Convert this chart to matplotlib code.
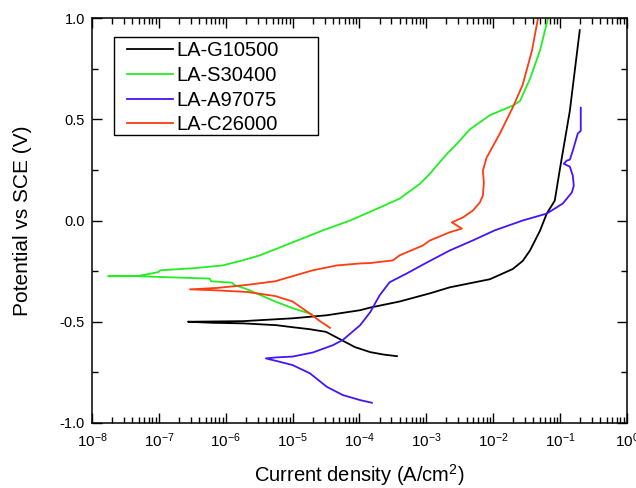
import matplotlib
matplotlib.use("Agg")
import matplotlib.pyplot as plt
from matplotlib.patches import Rectangle
import numpy as np
from matplotlib.ticker import FixedLocator, LogLocator, FuncFormatter, MultipleLocator

plt.rcParams['font.family'] = ['Liberation Sans', 'DejaVu Sans']
plt.rcParams['mathtext.fontset'] = 'custom'
plt.rcParams['mathtext.rm'] = 'Liberation Sans'
plt.rcParams['mathtext.it'] = 'Liberation Sans'

# log10 of current density (A/cm2) and potential (V vs SCE)
g10500_logi = [-3.44, -3.64, -3.84, -4.07, -4.35, -4.50, -4.74, -5.00, -5.24, -5.74,
               -6.21, -6.565,
               -5.74, -5.00, -4.49, -3.99, -3.84, -3.40, -2.95, -2.65, -2.05,
               -1.71, -1.56, -1.45, -1.30, -1.20, -1.08, -1.00, -0.855, -0.706]
g10500_e = [-0.67, -0.662, -0.65, -0.625, -0.576, -0.55, -0.537, -0.527, -0.517, -0.508,
            -0.505, -0.50,
            -0.497, -0.483, -0.468, -0.443, -0.43, -0.40, -0.36, -0.33, -0.29,
            -0.24, -0.20, -0.148, -0.05, 0.034, 0.098, 0.26, 0.54, 0.94]

s30400_logi = [-4.71, -5.00, -5.26, -5.71, -5.86, -5.91, -6.22, -6.24, -6.68,
               -7.31, -7.76,
               -7.31, -7.01, -6.98, -6.46, -6.05, -5.75, -5.49, -5.00, -4.55,
               -4.14, -3.80, -3.40, -3.10, -2.95, -2.69, -2.54, -2.35, -2.05,
               -1.71, -1.60, -1.45, -1.30, -1.18]
s30400_e = [-0.463, -0.433, -0.40, -0.336, -0.32, -0.307, -0.30, -0.287, -0.282,
            -0.275, -0.275,
            -0.274, -0.255, -0.246, -0.235, -0.222, -0.197, -0.172, -0.108, -0.049,
            0.0, 0.049, 0.108, 0.18, 0.23, 0.33, 0.38, 0.45, 0.52,
            0.567, 0.59, 0.70, 0.84, 1.0]

a97075_logi = [-3.815, -3.99, -4.25, -4.49, -4.74, -5.00, -5.19, -5.40,
               -5.24, -5.00, -4.70, -4.40, -4.25, -3.99, -3.84, -3.70, -3.55, -3.29,
               -2.99, -2.65, -2.31, -1.98, -1.56, -1.20, -0.96, -0.90, -0.825,
               -0.795, -0.81, -0.855, -0.945, -0.90, -0.855, -0.81, -0.735,
               -0.691, -0.691]
a97075_e = [-0.90, -0.887, -0.862, -0.821, -0.755, -0.714, -0.698, -0.681,
            -0.676, -0.672, -0.652, -0.616, -0.59, -0.517, -0.453, -0.37, -0.305, -0.261,
            -0.207, -0.148, -0.099, -0.049, 0.0, 0.034, 0.084, 0.108, 0.138,
            0.172, 0.222, 0.266, 0.28, 0.296, 0.30, 0.345, 0.43,
            0.443, 0.557]

c26000_logi = [-4.44, -4.60, -4.74, -5.00, -5.26, -5.68, -6.13, -6.535,
               -6.13, -5.68, -5.26, -4.70, -4.34, -3.99, -3.84, -3.50, -3.40,
               -3.05, -2.95, -2.649, -2.469, -2.619, -2.454, -2.305, -2.20,
               -2.155, -2.14, -2.155, -2.10, -1.90, -1.71, -1.56, -1.42, -1.333]
c26000_e = [-0.53, -0.495, -0.46, -0.40, -0.373, -0.353, -0.345, -0.34,
            -0.333, -0.318, -0.30, -0.246, -0.222, -0.212, -0.21, -0.197, -0.172,
            -0.123, -0.099, -0.058, -0.04, -0.009, 0.015, 0.049, 0.089,
            0.123, 0.187, 0.246, 0.31, 0.43, 0.557, 0.67, 0.84, 0.995]

series = [
    ("LA-G10500", g10500_logi, g10500_e, "black"),
    ("LA-S30400", s30400_logi, s30400_e, "#22ee22"),
    ("LA-A97075", a97075_logi, a97075_e, "#4414ff"),
    ("LA-C26000", c26000_logi, c26000_e, "#ff3c10"),
]

fig = plt.figure(figsize=(6.36, 4.88), dpi=100)
ax = fig.add_axes([0.1447, 0.1332, 0.8411, 0.8299])

for name, li, e, col in series:
    ax.plot(10.0 ** np.array(li), e, color=col, lw=1.3, label=name)

ax.set_xscale("log")
ax.set_xlim(1e-8, 1)
ax.set_ylim(-1.0, 1.0)

ax.xaxis.set_major_locator(FixedLocator([10.0 ** k for k in range(-8, 1)]))
ax.xaxis.set_minor_locator(LogLocator(base=10, subs=np.arange(2, 10), numticks=20))
ax.xaxis.set_major_formatter(FuncFormatter(lambda v, p: r"$\mathregular{10^{%d}}$" % round(np.log10(v))))
ax.yaxis.set_major_locator(MultipleLocator(0.5))
ax.yaxis.set_minor_locator(MultipleLocator(0.25))
ax.yaxis.set_major_formatter(FuncFormatter(lambda v, p: "%.1f" % v))

ax.tick_params(which="both", direction="in", top=True, right=True, width=1.0)
ax.tick_params(which="major", length=7, labelsize=11, pad=6)
ax.tick_params(which="minor", length=4)
ax.tick_params(axis="y", labelsize=10.5, pad=5)
for sp in ax.spines.values():
    sp.set_linewidth(1.1)

ax.set_xlabel("Current density (A/cm$^2$)", fontsize=14.5, labelpad=9)
ax.set_ylabel("Potential vs SCE (V)", fontsize=15, labelpad=20)

# Origin-style legend box, wider than its text
ax.add_patch(Rectangle((0.0411, 0.711), 0.3813, 0.242, transform=ax.transAxes,
                       fill=True, facecolor="white", edgecolor="black", lw=1.0, zorder=4))
leg = ax.legend(loc="upper left", bbox_to_anchor=(0.0654, 0.942), borderaxespad=0,
                fontsize=14.5, frameon=False, handlelength=2.3, handletextpad=0.15,
                labelspacing=0.28, borderpad=0)
leg.set_zorder(5)

fig.savefig("out.png", dpi=100)
